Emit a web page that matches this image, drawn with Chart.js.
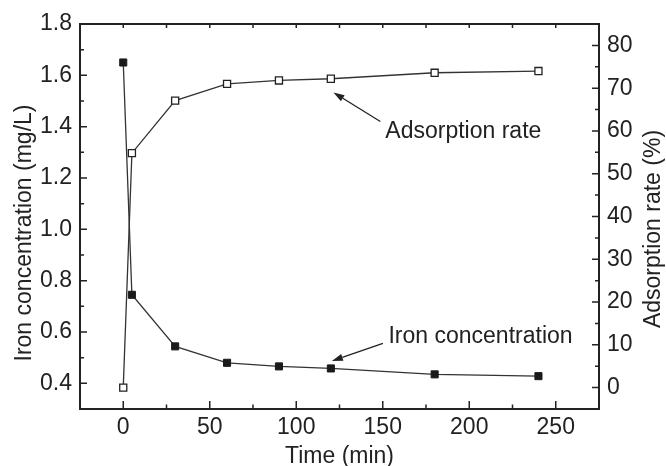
<!DOCTYPE html>
<html>
<head>
<meta charset="utf-8">
<script src="https://cdn.jsdelivr.net/npm/chart.js@4.4.0/dist/chart.umd.min.js"></script>
<style>
  body { margin: 0; background: #fff; }
  #wrap { width: 666px; height: 466px; }
</style>
</head>
<body>
<div id="wrap"><canvas id="mycanvas" width="666" height="466"></canvas></div>
<script>
// values
var time = [0, 5, 30, 60, 90, 120, 180, 240];
var ironConc = [1.65, 0.745, 0.544, 0.48, 0.466, 0.458, 0.435, 0.428];
var adsRate = [0, 54.8, 67.1, 71.0, 71.8, 72.2, 73.6, 74.0];

var xTicks = [0, 50, 100, 150, 200, 250];
var ironTicks = [0.4, 0.6, 0.8, 1.0, 1.2, 1.4, 1.6, 1.8];
var rateTicks = [0, 10, 20, 30, 40, 50, 60, 70, 80];

var ink = '#222';
var font = 'Liberation Sans, Arial, sans-serif';

// labels and arrows, placed in data units
var notes = [
  { text: 'Adsorption rate', axis: 'y1', at: [151.5, 58.3], from: [148.6, 62.2], to: [121.5, 69.0] },
  { text: 'Iron concentration', axis: 'y', at: [153.3, 0.558], from: [150.1, 0.556], to: [120.6, 0.487] }
];

function pts(ys) {
  return time.map(function(t, i) { return { x: t, y: ys[i] }; });
}

var framePlugin = {
  id: 'frame',
  afterDatasetsDraw: function(chart) {
    var ctx = chart.ctx, a = chart.chartArea;
    var x = chart.scales.x, yl = chart.scales.y, yr = chart.scales.y1;
    ctx.save();
    ctx.strokeStyle = ink;
    ctx.lineWidth = 1.5;
    ctx.beginPath();
    var v, p, len;
    for (v = 0; v <= 250; v += 25) {
      p = x.getPixelForValue(v);
      len = v % 50 === 0 ? 8 : 4.5;
      ctx.moveTo(p, a.bottom); ctx.lineTo(p, a.bottom - len);
      ctx.moveTo(p, a.top); ctx.lineTo(p, a.top + 4);
    }
    for (v = 4; v <= 17; v++) {
      p = yl.getPixelForValue(v / 10);
      len = v % 2 === 0 ? 7 : 4;
      ctx.moveTo(a.left, p); ctx.lineTo(a.left + len, p);
    }
    for (v = 0; v <= 80; v += 5) {
      p = yr.getPixelForValue(v);
      len = v % 10 === 0 ? 7 : 4;
      ctx.moveTo(a.right, p); ctx.lineTo(a.right - len, p);
    }
    ctx.stroke();
    ctx.lineWidth = 2;
    ctx.strokeRect(a.left, a.top, a.right - a.left, a.bottom - a.top);

    // annotations
    ctx.fillStyle = ink;
    ctx.font = '23px ' + font;
    ctx.textBaseline = 'alphabetic';
    ctx.textAlign = 'left';
    notes.forEach(function(n) {
      var ys = chart.scales[n.axis];
      var tx = x.getPixelForValue(n.at[0]), ty = ys.getPixelForValue(n.at[1]);
      ctx.fillText(n.text, tx, ty);
      var x0 = x.getPixelForValue(n.from[0]), y0 = ys.getPixelForValue(n.from[1]);
      var x1 = x.getPixelForValue(n.to[0]), y1 = ys.getPixelForValue(n.to[1]);
      var ang = Math.atan2(y1 - y0, x1 - x0);
      var hl = 11, hw = 3.5;
      var bx = x1 - hl * Math.cos(ang), by = y1 - hl * Math.sin(ang);
      ctx.lineWidth = 1.3;
      ctx.beginPath();
      ctx.moveTo(x0, y0); ctx.lineTo(bx, by);
      ctx.stroke();
      ctx.beginPath();
      ctx.moveTo(x1, y1);
      ctx.lineTo(bx + hw * Math.sin(ang), by - hw * Math.cos(ang));
      ctx.lineTo(bx - hw * Math.sin(ang), by + hw * Math.cos(ang));
      ctx.closePath();
      ctx.fill();
    });

    // axis titles
    ctx.textAlign = 'center';
    ctx.fillText('Time (min)', (a.left + a.right) / 2, 463);
    ctx.save();
    ctx.translate(31, 233);
    ctx.rotate(-Math.PI / 2);
    ctx.fillText('Iron concentration (mg/L)', 0, 0);
    ctx.restore();
    ctx.save();
    ctx.translate(660, 229);
    ctx.rotate(-Math.PI / 2);
    ctx.fillText('Adsorption rate (%)', 0, 0);
    ctx.restore();
    ctx.restore();
  }
};

function fixTicks(list) {
  return function(scale) {
    scale.ticks = list.map(function(v) { return { value: v }; });
  };
}

var tickFont = { family: font, size: 23 };

var chartdata = {
  datasets: [
    {
      label: 'Iron concentration',
      data: pts(ironConc),
      yAxisID: 'y',
      borderColor: '#333',
      borderWidth: 1.3,
      backgroundColor: '#1a1a1a',
      pointStyle: 'rect',
      pointRadius: 5,
      pointBackgroundColor: '#1a1a1a',
      pointBorderColor: '#1a1a1a',
      pointBorderWidth: 1,
      tension: 0
    },
    {
      label: 'Adsorption rate',
      data: pts(adsRate),
      yAxisID: 'y1',
      borderColor: '#333',
      borderWidth: 1.3,
      backgroundColor: '#fff',
      pointStyle: 'rect',
      pointRadius: 5,
      pointBackgroundColor: '#fff',
      pointBorderColor: '#222',
      pointBorderWidth: 1.3,
      tension: 0
    }
  ]
};

var ctx = document.getElementById('mycanvas');

var chart = new Chart(ctx, {
  type: 'line',
  data: chartdata,
  plugins: [framePlugin],
  options: {
    responsive: false,
    animation: false,
    layout: { padding: { top: 24, left: 0, right: 0, bottom: 0 } },
    plugins: { legend: { display: false }, tooltip: { enabled: false } },
    scales: {
      x: {
        type: 'linear',
        min: -25,
        max: 275,
        afterBuildTicks: fixTicks(xTicks),
        afterFit: function(s) { s.height = 57; },
        grid: { display: false, drawTicks: false },
        border: { display: false },
        ticks: { font: tickFont, color: ink, padding: 5, maxRotation: 0, autoSkip: false }
      },
      y: {
        position: 'left',
        min: 0.3,
        max: 1.8,
        afterBuildTicks: fixTicks(ironTicks),
        afterFit: function(s) { s.width = 80; },
        grid: { display: false, drawTicks: false },
        border: { display: false },
        ticks: {
          font: tickFont, color: ink, padding: 8, autoSkip: false,
          callback: function(v) { return v.toFixed(1); }
        }
      },
      y1: {
        position: 'right',
        min: -5,
        max: 85,
        afterBuildTicks: fixTicks(rateTicks),
        afterFit: function(s) { s.width = 67; },
        grid: { display: false, drawTicks: false },
        border: { display: false },
        ticks: { font: tickFont, color: ink, padding: 8, autoSkip: false }
      }
    }
  }
});
</script>
</body>
</html>
